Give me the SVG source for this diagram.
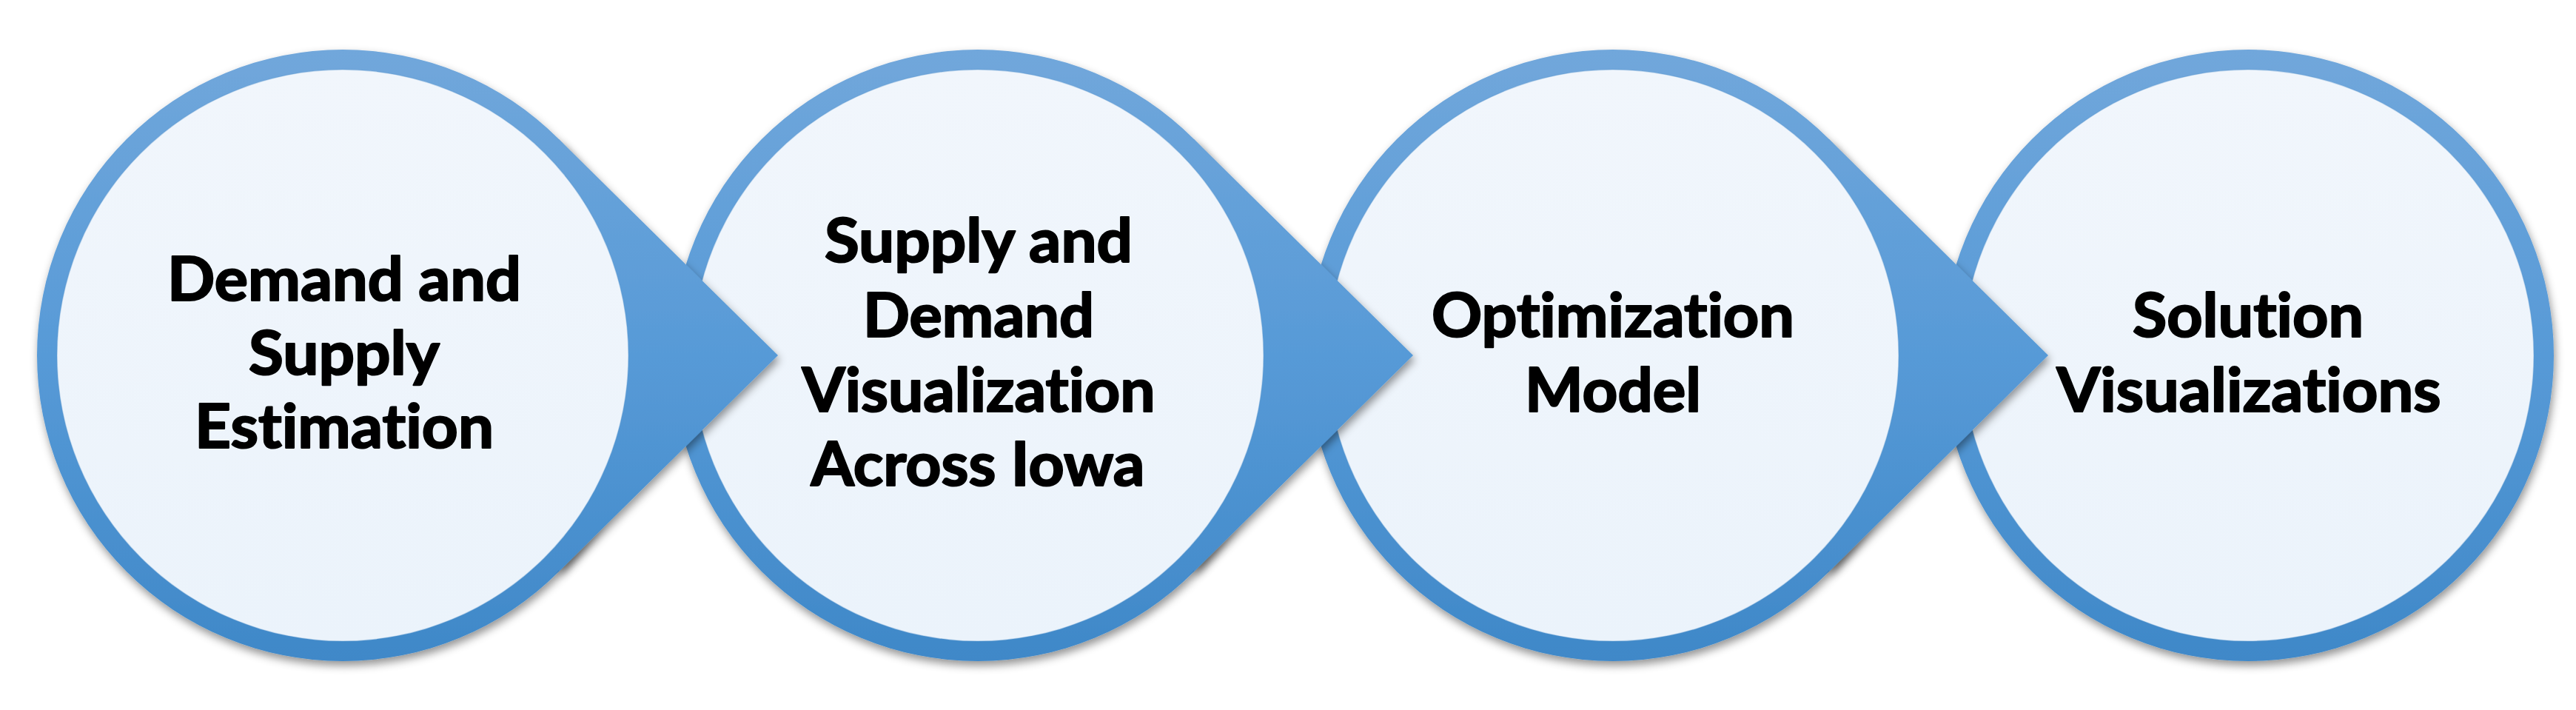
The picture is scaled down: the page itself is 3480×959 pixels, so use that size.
<svg xmlns="http://www.w3.org/2000/svg" width="3480" height="959" viewBox="0 0 3480 959">
  <defs>
    <linearGradient id="ring" gradientUnits="userSpaceOnUse" x1="0" y1="67" x2="0" y2="893">
      <stop offset="0" stop-color="#71a7db"/>
      <stop offset="0.5" stop-color="#579ad7"/>
      <stop offset="1" stop-color="#3f88c8"/>
    </linearGradient>
    <linearGradient id="inner" gradientUnits="userSpaceOnUse" x1="0" y1="94" x2="0" y2="866">
      <stop offset="0" stop-color="#f1f6fc"/>
      <stop offset="1" stop-color="#ebf3fb"/>
    </linearGradient>
    <filter id="shadow" x="-15%" y="-15%" width="130%" height="130%">
      <feDropShadow dx="2" dy="6" stdDeviation="6" flood-color="#000" flood-opacity="0.42"/>
    </filter>
    <clipPath id="clip1"><path clip-rule="evenodd" d="M0 0H3480V959H0Z M51.5 480a411.5 411.5 0 1 0 823 0a411.5 411.5 0 1 0 -823 0Z"/></clipPath>
    <clipPath id="clip2"><path clip-rule="evenodd" d="M0 0H3480V959H0Z M909.5 480a411.5 411.5 0 1 0 823 0a411.5 411.5 0 1 0 -823 0Z"/></clipPath>
    <clipPath id="clip3"><path clip-rule="evenodd" d="M0 0H3480V959H0Z M1767.5 480a411.5 411.5 0 1 0 823 0a411.5 411.5 0 1 0 -823 0Z"/></clipPath>
  </defs>
  <style>
    .outer { fill: url(#ring); filter: url(#shadow); }
    .in { fill: url(#inner); stroke: #5b97cf; stroke-opacity: 0.35; stroke-width: 1.5; }
    .arrow { fill: url(#ring); filter: url(#shadow); }
    text { font-family: Lato, "Open Sans", "Liberation Sans", sans-serif; font-weight: bold; font-size: 82px; fill: #000; stroke: #000; stroke-width: 2.2; stroke-linejoin: round; text-anchor: middle; font-variant-ligatures: none; }
  </style>
  <rect width="3480" height="959" fill="#fff"/>

  <g id="node1">
    <circle class="outer" cx="463" cy="480" r="413"/>
    <circle class="in" cx="463" cy="480" r="386"/>
    <text x="465" y="406" textLength="478" lengthAdjust="spacingAndGlyphs">Demand and</text>
    <text x="465" y="506" textLength="258" lengthAdjust="spacingAndGlyphs">Supply</text>
    <text x="465" y="605" textLength="404" lengthAdjust="spacingAndGlyphs">Estimation</text>
  </g>

  <g id="node2">
    <circle class="outer" cx="1321" cy="480" r="413"/>
    <circle class="in" cx="1321" cy="480" r="386"/>
    <text x="1322" y="354" textLength="416" lengthAdjust="spacingAndGlyphs">Supply and</text>
    <text x="1322" y="455" textLength="312" lengthAdjust="spacingAndGlyphs">Demand</text>
    <text x="1322" y="556" textLength="477" lengthAdjust="spacingAndGlyphs">Visualization</text>
    <text x="1321" y="656" textLength="451" lengthAdjust="spacingAndGlyphs">Across Iowa</text>
  </g>

  <g id="node3">
    <circle class="outer" cx="2179" cy="480" r="413"/>
    <circle class="in" cx="2179" cy="480" r="386"/>
    <text x="2179" y="455" textLength="490" lengthAdjust="spacingAndGlyphs">Optimization</text>
    <text x="2179" y="556" textLength="238" lengthAdjust="spacingAndGlyphs">Model</text>
  </g>

  <g id="node4">
    <circle class="outer" cx="3037" cy="480" r="413"/>
    <circle class="in" cx="3037" cy="480" r="386"/>
    <text x="3037" y="455" textLength="312" lengthAdjust="spacingAndGlyphs">Solution</text>
    <text x="3038" y="556" textLength="519" lengthAdjust="spacingAndGlyphs">Visualizations</text>
  </g>

  <g id="connectors">
    <g clip-path="url(#clip1)"><path class="arrow" d="M755 188L1051 480L755 772Z"/></g>
    <g clip-path="url(#clip2)"><path class="arrow" d="M1613 188L1909 480L1613 772Z"/></g>
    <g clip-path="url(#clip3)"><path class="arrow" d="M2471 188L2767 480L2471 772Z"/></g>
  </g>
</svg>
